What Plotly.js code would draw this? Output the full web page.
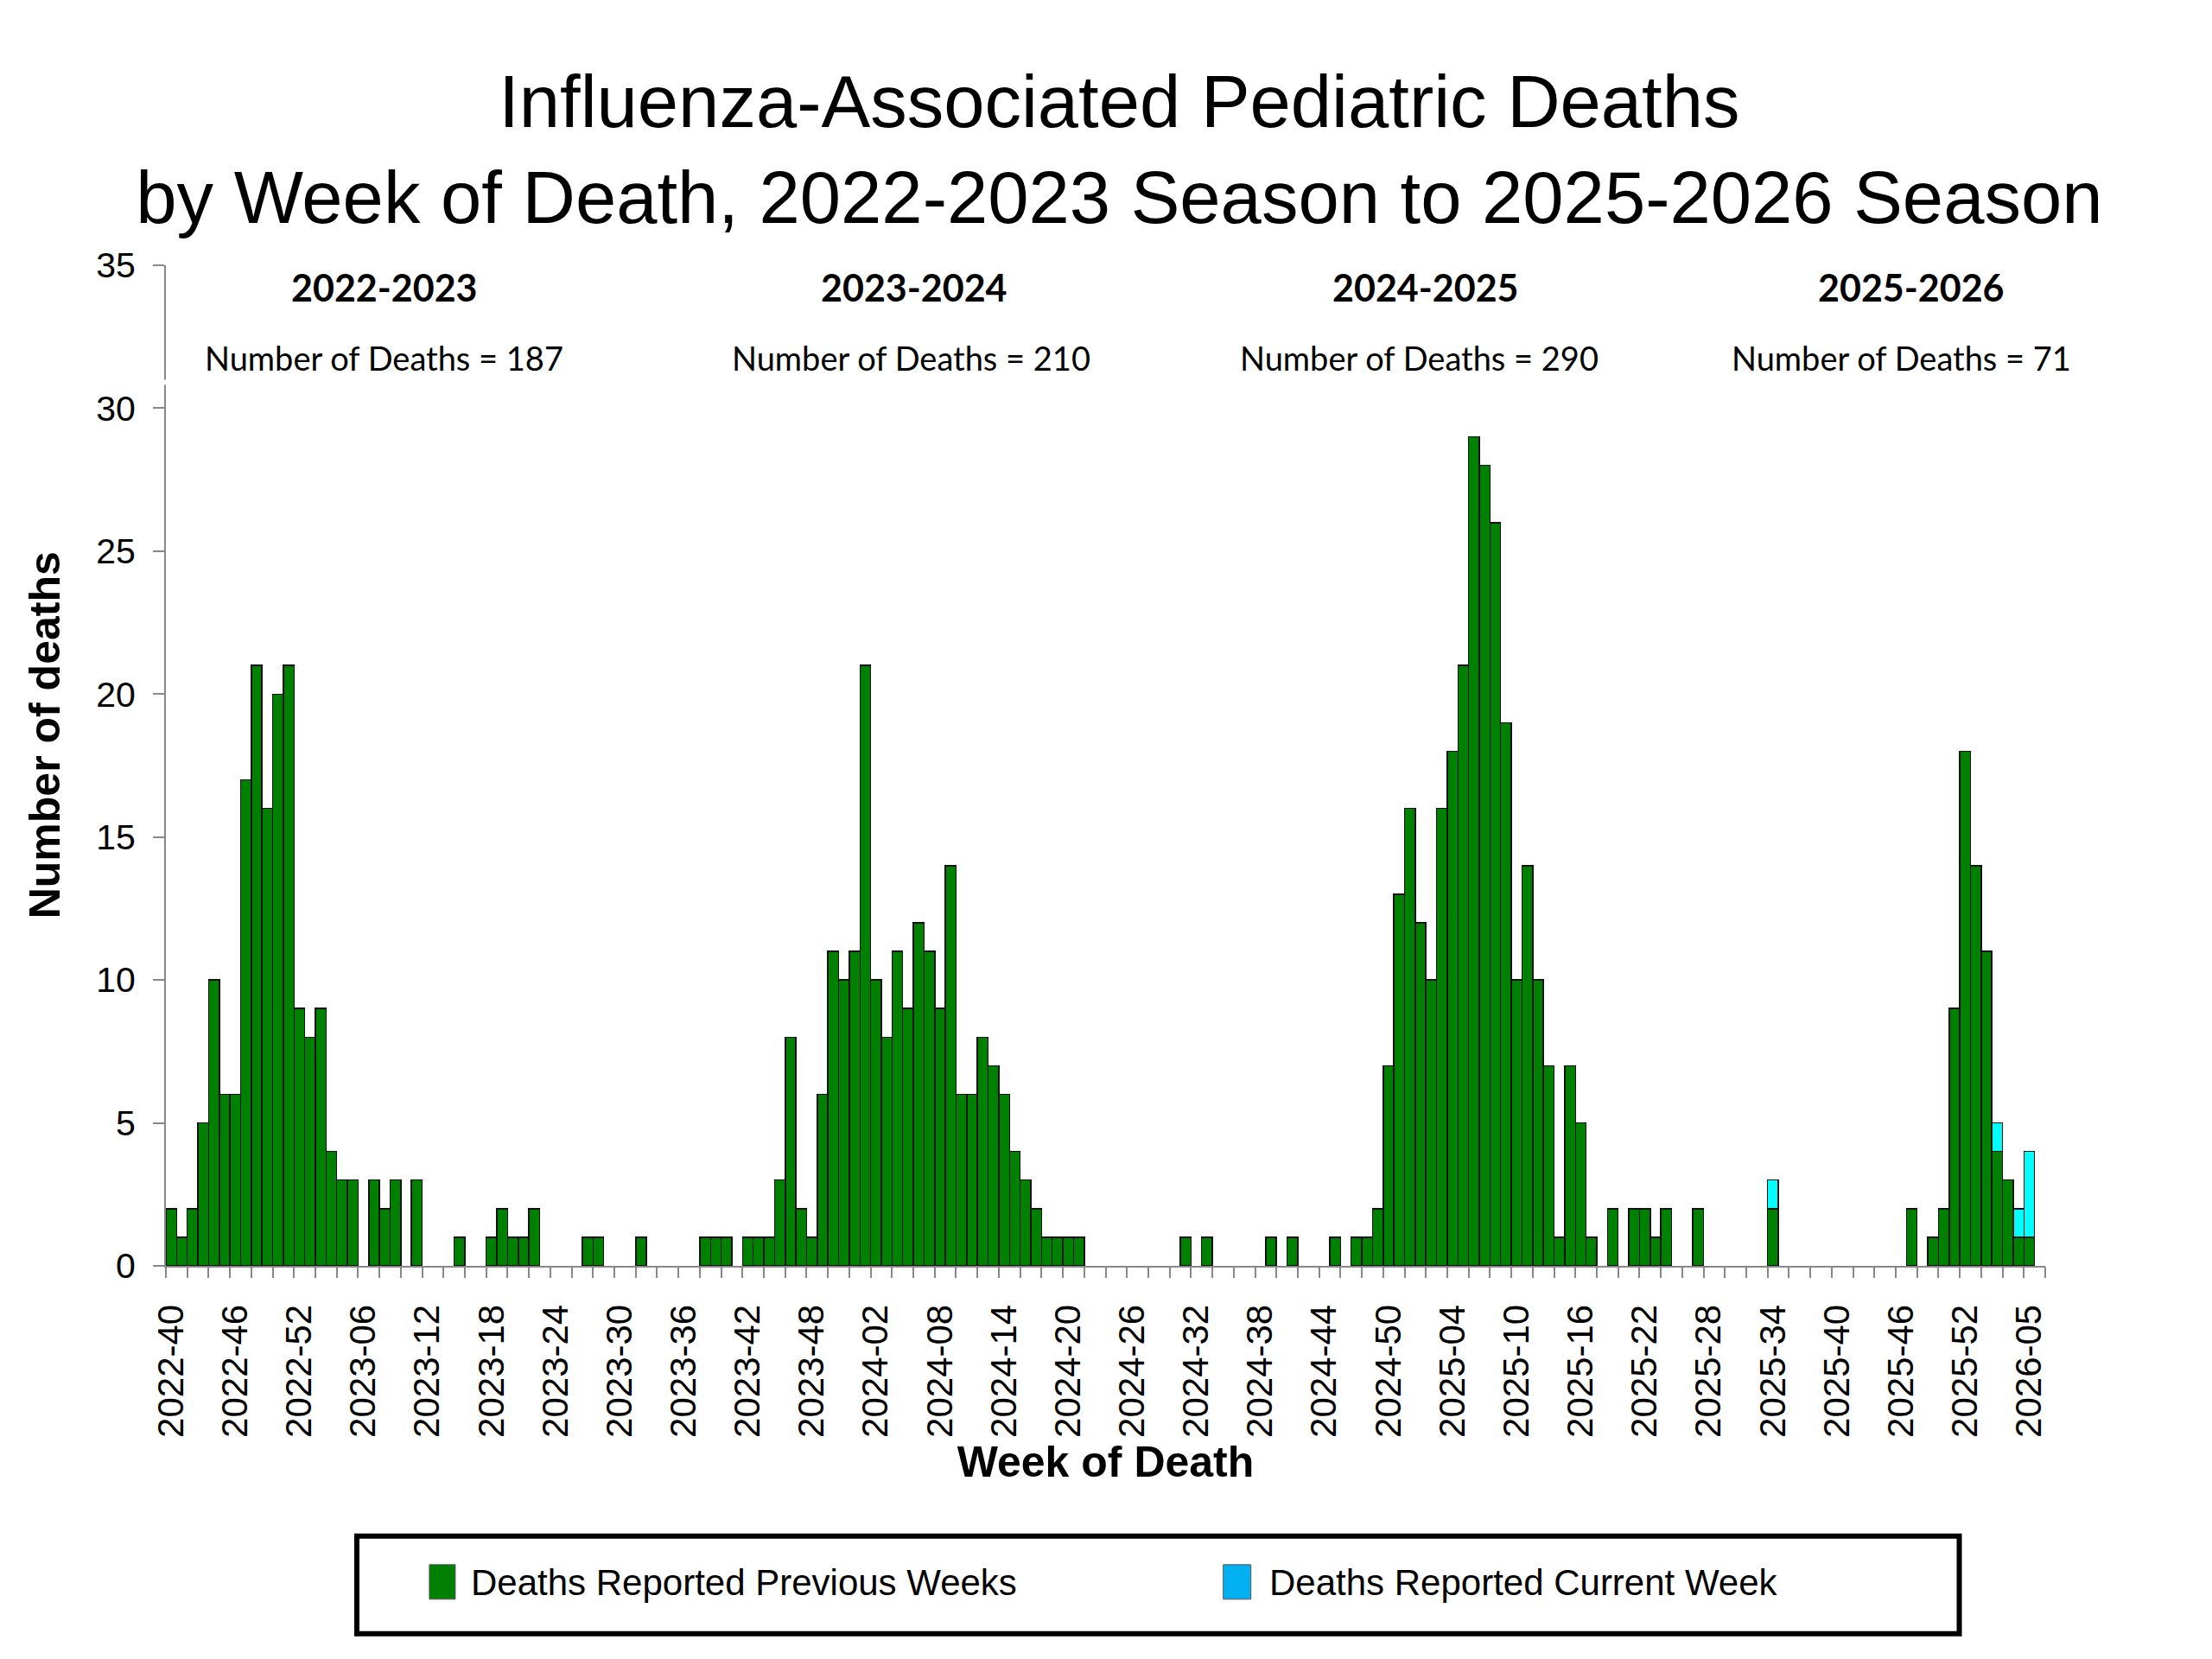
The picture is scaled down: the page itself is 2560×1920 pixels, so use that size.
<!DOCTYPE html>
<html><head><meta charset="utf-8">
<script src="https://cdn.plot.ly/plotly-3.0.1.min.js"></script>
<style>html,body{margin:0;padding:0;background:#fff}#chart{width:2560px;height:1920px}</style>
</head><body><div id="chart"></div>
<script>
// MMWR week categories (2025 has 53 weeks)
const weeks = [
 '2022-40','2022-41','2022-42','2022-43','2022-44','2022-45','2022-46','2022-47','2022-48','2022-49','2022-50','2022-51','2022-52',
 '2023-01','2023-02','2023-03','2023-04','2023-05','2023-06','2023-07','2023-08','2023-09','2023-10',
 '2023-11','2023-12','2023-13','2023-14','2023-15','2023-16','2023-17','2023-18','2023-19','2023-20',
 '2023-21','2023-22','2023-23','2023-24','2023-25','2023-26','2023-27','2023-28','2023-29','2023-30',
 '2023-31','2023-32','2023-33','2023-34','2023-35','2023-36','2023-37','2023-38','2023-39','2023-40',
 '2023-41','2023-42','2023-43','2023-44','2023-45','2023-46','2023-47','2023-48','2023-49','2023-50',
 '2023-51','2023-52',
 '2024-01','2024-02','2024-03','2024-04','2024-05','2024-06','2024-07','2024-08','2024-09','2024-10',
 '2024-11','2024-12','2024-13','2024-14','2024-15','2024-16','2024-17','2024-18','2024-19','2024-20',
 '2024-21','2024-22','2024-23','2024-24','2024-25','2024-26','2024-27','2024-28','2024-29','2024-30',
 '2024-31','2024-32','2024-33','2024-34','2024-35','2024-36','2024-37','2024-38','2024-39','2024-40',
 '2024-41','2024-42','2024-43','2024-44','2024-45','2024-46','2024-47','2024-48','2024-49','2024-50',
 '2024-51','2024-52',
 '2025-01','2025-02','2025-03','2025-04','2025-05','2025-06','2025-07','2025-08','2025-09','2025-10',
 '2025-11','2025-12','2025-13','2025-14','2025-15','2025-16','2025-17','2025-18','2025-19','2025-20',
 '2025-21','2025-22','2025-23','2025-24','2025-25','2025-26','2025-27','2025-28','2025-29','2025-30',
 '2025-31','2025-32','2025-33','2025-34','2025-35','2025-36','2025-37','2025-38','2025-39','2025-40',
 '2025-41','2025-42','2025-43','2025-44','2025-45','2025-46','2025-47','2025-48','2025-49','2025-50',
 '2025-51','2025-52','2025-53',
 '2026-01','2026-02','2026-03','2026-04','2026-05'
];

// Deaths reported in previous weeks, one value per week above
const previousWeeks = [
 // 2022-40 .. 2023-39
 2,1,2,5,10,6,6,17,21,16,20,21,9,
 8,9,4,3,3,0,3,2,3,0, 3,0,0,0,1,0,0,1,2,1, 1,2,0,0,0,0,1,1,0,0, 0,1,0,0,0,0,0,1,1,
 // 2023-40 .. 2024-39
 1,0,1,1,1,3,8,2,1,6,11,10,11,
 21,10,8,11,9,12,11,9,14,6, 6,8,7,6,4,3,2,1,1,1, 1,0,0,0,0,0,0,0,0,0, 1,0,1,0,0,0,0,0,1,
 // 2024-40 .. 2025-39
 0,1,0,0,0,1,0,1,1,2,7,13,16,
 12,10,16,18,21,29,28,26,19,10, 14,10,7,1,7,5,1,0,2,0, 2,2,1,2,0,0,2,0,0,0, 0,0,0,2,0,0,0,0,0,
 // 2025-40 .. 2026-05
 0,0,0,0,0,0,0,2,0,1,2,9,18,14,
 11,4,3,1,1
];

// Deaths reported in the current week
const currentWeek = [
 0,0,0,0,0,0,0,0,0,0,0,0,0,
 0,0,0,0,0,0,0,0,0,0, 0,0,0,0,0,0,0,0,0,0, 0,0,0,0,0,0,0,0,0,0, 0,0,0,0,0,0,0,0,0,
 0,0,0,0,0,0,0,0,0,0,0,0,0,
 0,0,0,0,0,0,0,0,0,0, 0,0,0,0,0,0,0,0,0,0, 0,0,0,0,0,0,0,0,0,0, 0,0,0,0,0,0,0,0,0,
 0,0,0,0,0,0,0,0,0,0,0,0,0,
 0,0,0,0,0,0,0,0,0,0, 0,0,0,0,0,0,0,0,0,0, 0,0,0,0,0,0,0,0,0,0, 0,0,0,1,0,0,0,0,0,
 0,0,0,0,0,0,0,0,0,0,0,0,0,0,
 0,1,0,1,3
];

const tickLabels = [
 '2022-40','2022-46','2022-52','2023-06','2023-12','2023-18','2023-24','2023-30','2023-36','2023-42',
 '2023-48','2024-02','2024-08','2024-14','2024-20','2024-26','2024-32','2024-38','2024-44','2024-50',
 '2025-04','2025-10','2025-16','2025-22','2025-28','2025-34','2025-40','2025-46','2025-52','2026-05'
];

const seasons = ['2022-2023','2023-2024','2024-2025','2025-2026'];
const seasonTotals = [187, 210, 290, 71];
const seriesNames = ['Deaths Reported Previous Weeks', 'Deaths Reported Current Week'];
const barColors = ['#008000', '#00FFFF'];
const legendColors = ['#008000', '#00B0F0'];

// ---- layout helpers (pixel -> paper) ----
const W = 2560, H = 1920;
const L = 192, R = 2367.5, T = 306.5, B = 1465;
const px = x => (x - L) / (R - L);
const py = y => (B - y) / (B - T);

const ARIAL = 'Liberation Sans, Arial, sans-serif';
const CAL = 'Lato, Open Sans, sans-serif';

const nz = arr => arr.map(v => v === 0 ? null : v);

const traces = [
  {type:'bar', name: seriesNames[0], x: weeks, y: nz(previousWeeks),
   marker:{color: barColors[0], line:{color:'#111', width:1.5}}, showlegend:false, hoverinfo:'x+y'},
  {type:'bar', name: seriesNames[1], x: weeks, y: nz(currentWeek),
   marker:{color: barColors[1], line:{color:'#111', width:1.5}}, showlegend:false, hoverinfo:'x+y'},
  {type:'scatter', x: [], y: [], xaxis:'x2', yaxis:'y', showlegend:false, hoverinfo:'skip'}
];

const seasonX = [445, 1058, 1650, 2212];
const totalX = [445, 1055, 1643, 2201];
const annotations = [];
seasons.forEach((s, i) => {
  annotations.push({xref:'paper', yref:'paper', x: px(seasonX[i]), y: py(332), text: s,
    showarrow:false, xanchor:'center', yanchor:'middle',
    font:{family: CAL, size: 43, color:'#000', weight:'bold'}});
  annotations.push({xref:'paper', yref:'paper', x: px(totalX[i]), y: py(414),
    text: 'Number of Deaths = ' + seasonTotals[i],
    showarrow:false, xanchor:'center', yanchor:'middle',
    font:{family: CAL, size: 38, color:'#000'}});
});
const legTextX = [543, 1467];
legTextX.forEach((x, i) => {
  annotations.push({xref:'paper', yref:'paper', x: px(x), y: py(1832), text: seriesNames[i],
    showarrow:false, xanchor:'left', yanchor:'middle',
    font:{family: ARIAL, size: 42, color:'#000'}});
});
// y axis title
annotations.push({xref:'paper', yref:'paper', x: px(52), y: py(851), text:'Number of deaths',
  textangle:-90, showarrow:false, xanchor:'center', yanchor:'middle',
  font:{family: ARIAL, size: 50, color:'#000', weight:'bold'}});

const shapes = [
  // legend frame
  {type:'rect', xref:'paper', yref:'paper', x0: px(413), x1: px(2268), y0: py(1778), y1: py(1891),
   line:{color:'#000', width:6}, fillcolor:'rgba(0,0,0,0)'},
  // legend swatches
  {type:'rect', xref:'paper', yref:'paper', x0: px(497), x1: px(527), y0: py(1811), y1: py(1851),
   line:{color:'#555', width:1}, fillcolor: legendColors[0]},
  {type:'rect', xref:'paper', yref:'paper', x0: px(1416), x1: px(1448), y0: py(1811), y1: py(1851),
   line:{color:'#555', width:1}, fillcolor: legendColors[1]},
  // small break in the y axis line
  {type:'rect', xref:'paper', yref:'paper', layer:'above', x0: px(185), x1: px(199), y0: py(439), y1: py(445),
   line:{width:0}, fillcolor:'#fff'}
];

const layout = {
  width: W, height: H,
  paper_bgcolor:'#fff', plot_bgcolor:'#fff',
  margin:{l: L, r: W - R, t: T, b: H - B, pad: 0},
  barmode:'stack', bargap: 0,
  showlegend:false,
  title:{text:'Influenza-Associated Pediatric Deaths<br>by Week of Death, 2022-2023 Season to 2025-2026 Season',
    font:{family: ARIAL, size: 85, color:'#000'},
    x: 0.506, xref:'container', xanchor:'center', y: 1 - 147/H, yref:'container', yanchor:'middle'},
  xaxis:{type:'category', categoryorder:'array', categoryarray: weeks,
    range:[-0.5, 175.5], tickmode:'array', tickvals: tickLabels, ticktext: tickLabels,
    tickangle:-90, ticks:'', showline:true, linecolor:'#888', linewidth:2,
    showgrid:false, zeroline:false, ticklabelstandoff: 26,
    tickfont:{family: ARIAL, size: 42, color:'#000'},
    title:{text:'Week of Death', font:{family: ARIAL, size: 50, color:'#000', weight:'bold'}, standoff: 6}},
  xaxis2:{overlaying:'x', anchor:'y', side:'bottom', type:'linear', range:[-0.5, 175.5],
    tickmode:'linear', tick0:-0.5, dtick:2, ticks:'outside', ticklen:13, tickwidth:2, tickcolor:'#888',
    showticklabels:false, showgrid:false, zeroline:false, showline:false},
  yaxis:{range:[0, 35], tickmode:'linear', tick0:0, dtick:5, ticks:'outside', ticklen:13, tickwidth:2,
    tickcolor:'#888', showline:true, linecolor:'#888', linewidth:2, showgrid:false, zeroline:false,
    ticklabelstandoff: 12, tickfont:{family: ARIAL, size: 41, color:'#000'}},
  annotations, shapes
};

Plotly.newPlot('chart', traces, layout, {staticPlot:true, displayModeBar:false});
</script>
</body></html>
